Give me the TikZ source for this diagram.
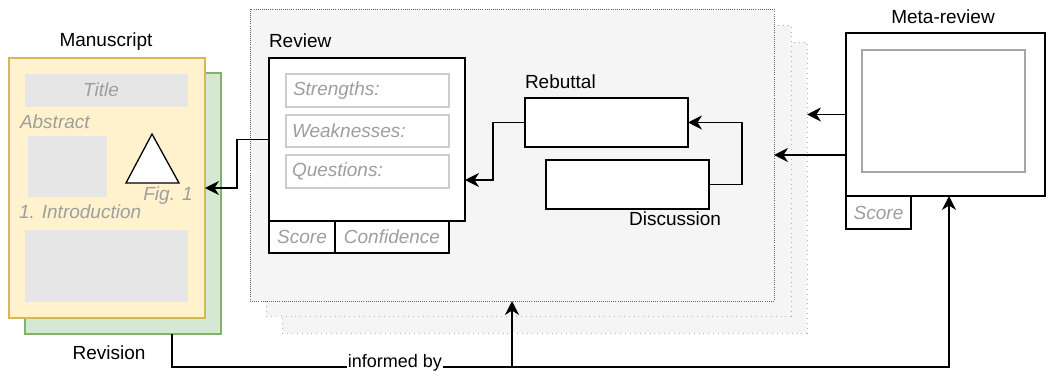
\documentclass[tikz,border=0pt]{standalone}
\usepackage{fontspec}
\setmainfont{Liberation Sans}
\usetikzlibrary{arrows.meta,calc}
\definecolor{yelF}{HTML}{FFF2CC}
\definecolor{yelS}{HTML}{D6B656}
\definecolor{grnF}{HTML}{D5E8D4}
\definecolor{grnS}{HTML}{82B366}
\definecolor{boxF}{HTML}{E6E6E6}
\definecolor{txtG}{HTML}{9E9E9E}
\definecolor{contF}{HTML}{F5F5F5}
\definecolor{contS}{HTML}{666666}
\definecolor{shS}{HTML}{B3B3B3}
\definecolor{fldS}{HTML}{CCCCCC}
\definecolor{metaS}{HTML}{A6A6A6}
\begin{document}
\begin{tikzpicture}[x=1pt,y=-1pt,
  every node/.style={inner sep=0pt, outer sep=0pt, font=\fontsize{19}{22}\selectfont},
  rect/.style 2 args={minimum width=#1pt, minimum height=#2pt, anchor=north west},
  blk/.style={draw=black, line width=1.3pt, fill=white},
  ghost/.style={txtG, font=\fontsize{19}{22}\selectfont\itshape},
  fld/.style={draw=fldS, line width=1.2pt, fill=white},
  gbox/.style={fill=boxF},
  conn/.style={draw=black, line width=1.4pt},
  arr/.style={conn, -{Stealth[length=14pt,width=14pt,inset=4.5pt]}},
  lbl/.style={font=\fontsize{19}{22}\selectfont}
]
\useasboundingbox (0,0) rectangle (1046,371);

% ---- Manuscript / Revision ----
\node[lbl] (mlabel) at (106,42) {Manuscript};
\node[rect={196}{261}, fill=grnF, draw=grnS, line width=1.2pt] (rev) at (25,73) {};
\node[rect={196}{260}, fill=yelF, draw=yelS, line width=1.2pt] (man) at (9,58) {};
\node[rect={163}{33}, gbox] (title) at (25,74) {};
\node[ghost] (titletxt) at (101,90) {Title};
\node[ghost, anchor=west] (abstxt) at (20,122) {Abstract};
\node[rect={79}{61}, gbox] (absbox) at (28,136) {};
\draw[black, line width=1.3pt, fill=white] (152,134) -- (179,183) -- (126,183) -- cycle;
\node[ghost] (figtxt) at (168,196) {Fig. 1};
\node[ghost, anchor=west] (introtxt) at (19,212) {1. Introduction};
\node[rect={163}{72}, gbox] (introbox) at (25,230) {};
\node[lbl] (revlabel) at (109,353) {Revision};

% ---- Review group ----
\node[rect={525}{291}, fill=contF, draw=shS, line width=0.9pt, dash pattern=on 0.9pt off 4pt] (sh3) at (282,42) {};
\node[rect={525}{291}, fill=contF, draw=shS, line width=0.9pt, dash pattern=on 0.9pt off 4pt] (sh2) at (266,25) {};
\node[rect={524}{292}, fill=contF, draw=contS, line width=0.9pt, dash pattern=on 0.9pt off 1.2pt] (cont) at (250,9) {};

\node[lbl, anchor=west] (reviewlbl) at (269,41) {Review};
\node[rect={196}{163}, blk] (review) at (269,58) {};
\node[rect={163}{33}, fld] (str) at (286,74) {};
\node[ghost, anchor=west] at (293,90.5) {Strengths:};
\node[rect={163}{32}, fld] (weak) at (286,115) {};
\node[ghost, anchor=west] at (292,131) {Weaknesses:};
\node[rect={163}{33}, fld] (ques) at (286,155) {};
\node[ghost, anchor=west] at (292,171.5) {Questions:};
\node[rect={66}{32}, blk] (score) at (269,221) {};
\node[ghost] at (302,237) {Score};
\node[rect={114}{32}, blk] (conf) at (335,221) {};
\node[ghost] at (392,237) {Confidence};

\node[lbl, anchor=west] (rebutlbl) at (525,82) {Rebuttal};
\node[rect={163}{49}, blk] (rebut) at (525,98) {};
\node[rect={163}{49}, blk] (disc) at (546,160) {};
\node[lbl] (disclbl) at (675,219) {Discussion};

% ---- Meta-review ----
\node[lbl] (metalbl) at (943,17) {Meta-review};
\node[rect={199}{163}, blk] (meta) at (846,33) {};
\node[rect={163}{122}, draw=metaS, line width=1.2pt, fill=white] (metain) at (862,50) {};
\node[rect={65}{33}, blk] (mscore) at (846,196) {};
\node[ghost] at (878.5,212.5) {Score};

% ---- Connectors ----
\draw[arr] (review.west) -- ++(-32,0) |- (man.east);
\draw[arr] (rebut.west) -- ++(-32,0) |- ([yshift=-40.5pt]review.east);
\draw[arr] (disc.east) -- ++(33,0) |- (rebut.east);
\draw[arr] (meta.west) -- (meta.west -| sh3.east);
\draw[arr] (meta.west |- cont.east) -- (cont.east);
\draw[arr] ([xshift=49pt]rev.south) -- ++(0,33) -| ([xshift=103pt]meta.south west);
\node[fill=white, inner xsep=1pt, font=\fontsize{18}{20}\selectfont] (inf) at (395,363) {informed by};
\draw[arr] (cont.south |- inf.east) ++(0,4) -- (cont.south);
\end{tikzpicture}
\end{document}
